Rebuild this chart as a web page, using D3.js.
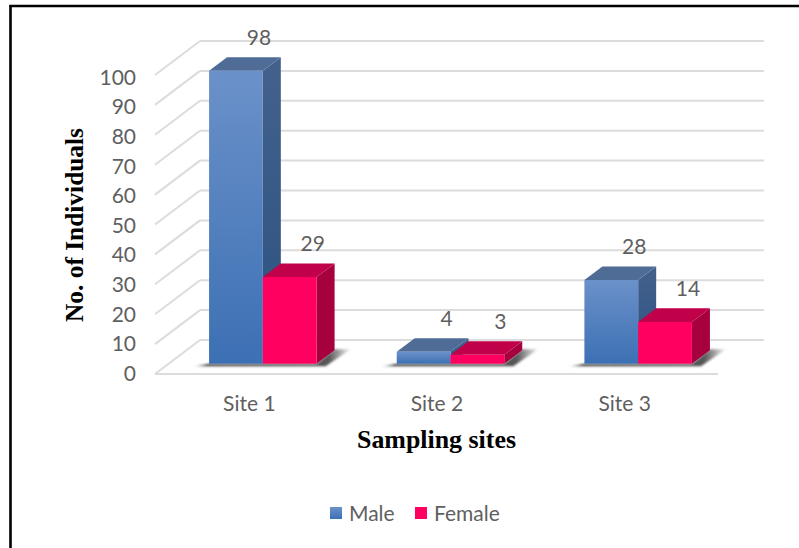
<!DOCTYPE html>
<html>
<head>
<meta charset="utf-8">
<script src="https://cdn.jsdelivr.net/npm/d3@7"></script>
<style>
  html, body { margin: 0; padding: 0; background: #fff; }
  svg { display: block; }
  .lbl { font-family: "Lato", sans-serif; font-size: 21px; fill: #5f5f5f; }
  .ttl { font-family: "Liberation Serif", serif; font-weight: bold; font-size: 25px; fill: #000; }
</style>
</head>
<body>
<svg id="chart" width="799" height="548"></svg>
<script>
const sites = ["Site 1", "Site 2", "Site 3"];
const seriesNames = ["Male", "Female"];
const maleCounts = [98, 4, 28];
const femaleCounts = [29, 3, 14];
const tickValues = [0, 10, 20, 30, 40, 50, 60, 70, 80, 90, 100];

const svg = d3.select("#chart");
const defs = svg.append("defs");

// Oblique projection: depth 0 is the front of the floor, depth 1 the back wall.
const depthX = d3.scaleLinear().domain([0, 1]).range([0, 45]);
const depthY = d3.scaleLinear().domain([0, 1]).range([0, -34]);
const yFront = d3.scaleLinear().domain([0, 100]).range([374, 75]);
const yLabels = d3.scaleLinear().domain([0, 100]).range([373.5, 77.5]);
const xSite = d3.scaleBand().domain(sites).range([155.5, 718.5]).paddingInner(0.427).paddingOuter(0.2135);
const xSeries = d3.scaleBand().domain(seriesNames).range([0, xSite.bandwidth()]);
const barDepth = [0.3, 0.7];

const px = (x, d) => x + depthX(d);
const py = (v, d) => yFront(v) + depthY(d);
const pts = list => list.map(p => p.join(",")).join(" ");

function vGrad(id, top, bottom) {
  const g = defs.append("linearGradient").attr("id", id)
    .attr("x1", 0).attr("y1", 0).attr("x2", 0).attr("y2", 1);
  g.append("stop").attr("offset", 0).attr("stop-color", top);
  g.append("stop").attr("offset", 1).attr("stop-color", bottom);
}
vGrad("maleFront", "#6b91c9", "#3c70b4");
vGrad("maleSide", "#44618c", "#2b5282");
vGrad("femaleFront", "#ff0060", "#ff0060");
vGrad("femaleSide", "#a6003f", "#a6003f");

const styles = {
  Male: { front: "url(#maleFront)", side: "url(#maleSide)", top: "#4f6c97" },
  Female: { front: "url(#femaleFront)", side: "url(#femaleSide)", top: "#c00048" }
};

defs.append("filter").attr("id", "soft").attr("x", "-10%").attr("y", "-30%").attr("width", "120%").attr("height", "160%")
  .append("feGaussianBlur").attr("stdDeviation", 1);
const sg = defs.append("linearGradient").attr("id", "floorShade");
[[0, 0.2], [0.08, 0.95], [0.86, 0.85], [1, 0.05]].forEach(([o, a]) =>
  sg.append("stop").attr("offset", o).attr("stop-color", "#3a3a3a").attr("stop-opacity", a));

// Outer frame: top and left rules only
svg.append("line").attr("x1", 9.5).attr("x2", 799).attr("y1", 6).attr("y2", 6).attr("stroke", "#000").attr("stroke-width", 2.4);
svg.append("line").attr("x1", 10.5).attr("x2", 10.5).attr("y1", 5).attr("y2", 548).attr("stroke", "#000").attr("stroke-width", 2.6);

// Back wall and side wall gridlines
const grid = svg.append("g").attr("fill", "none").attr("stroke", "#dcdcdc").attr("stroke-width", 2);
grid.selectAll(".back").data(tickValues).join("line").attr("class", "back")
  .attr("x1", px(155, 1)).attr("x2", 764)
  .attr("y1", d => py(d, 1)).attr("y2", d => py(d, 1));
grid.selectAll(".wall").data(tickValues).join("line").attr("class", "wall")
  .attr("x1", px(155, 0)).attr("x2", px(155, 1))
  .attr("y1", d => py(d, 0)).attr("y2", d => py(d, 1));
grid.append("line").attr("x1", 155).attr("x2", 718).attr("y1", yFront(0)).attr("y2", yFront(0));

// Value axis labels
const axisY = svg.append("g").attr("transform", "translate(136,0)")
  .call(d3.axisLeft(yLabels).tickValues(tickValues).tickSize(0).tickPadding(0));
axisY.select(".domain").remove();
axisY.selectAll("text").attr("class", "lbl").attr("font-family", null).attr("font-size", null).attr("fill", null);

// Site labels
const axisX = svg.append("g").attr("transform", "translate(0,394)")
  .call(d3.axisBottom(xSite).tickSize(0).tickPadding(0));
axisX.select(".domain").remove();
axisX.selectAll("text").attr("class", "lbl").attr("font-family", null).attr("font-size", null).attr("fill", null)
  .attr("dy", 17);

// Bars, one group per site
sites.forEach((site, i) => {
  const x0 = xSite(site);
  const x1 = x0 + xSite.bandwidth();
  const g = svg.append("g");

  // Cast shadow on the floor
  const baseY = py(0, barDepth[0]);
  const backY = py(0, barDepth[1]);
  g.append("polygon")
    .attr("points", pts([
      [px(x0, barDepth[0]) - 15, baseY + 2.5],
      [px(x1, barDepth[0]) + 9, baseY + 2.5],
      [px(x1, barDepth[1]) + 16, backY - 1],
      [px(x1, barDepth[1]), backY - 1],
      [px(x1, barDepth[0]), baseY],
      [px(x0, barDepth[0]), baseY]
    ]))
    .attr("fill", "url(#floorShade)").attr("filter", "url(#soft)");

  [[seriesNames[0], maleCounts[i]], [seriesNames[1], femaleCounts[i]]].forEach(([name, value]) => {
    const a = x0 + xSeries(name);
    const b = a + xSeries.bandwidth();
    const [d0, d1] = barDepth;
    const st = styles[name];
    g.append("polygon").attr("fill", st.side).attr("points", pts([
      [px(b, d0), py(value, d0)], [px(b, d1), py(value, d1)], [px(b, d1), py(0, d1)], [px(b, d0), py(0, d0)]
    ]));
    g.append("polygon").attr("fill", st.top).attr("points", pts([
      [px(a, d0), py(value, d0)], [px(a, d1), py(value, d1)], [px(b, d1), py(value, d1)], [px(b, d0), py(value, d0)]
    ]));
    g.append("polygon").attr("fill", st.front).attr("points", pts([
      [px(a, d0), py(value, d0)], [px(b, d0), py(value, d0)], [px(b, d0), py(0, d0)], [px(a, d0), py(0, d0)]
    ]));
  });
});

// Value labels sit above the back edge of each bar top, drawn last so they stay on top
sites.forEach((site, i) => {
  [[seriesNames[0], maleCounts[i]], [seriesNames[1], femaleCounts[i]]].forEach(([name, value]) => {
    const cx = xSite(site) + xSeries(name) + xSeries.bandwidth() / 2;
    svg.append("text").attr("class", "lbl").attr("text-anchor", "middle")
      .attr("x", px(cx, barDepth[1]) + 5)
      .attr("y", py(value, barDepth[1]) - 12)
      .text(value);
  });
});

// Axis titles
svg.append("text").attr("class", "ttl").attr("text-anchor", "middle")
  .attr("x", 436.5).attr("y", 448).attr("textLength", 159).attr("lengthAdjust", "spacingAndGlyphs").text("Sampling sites");
svg.append("text").attr("class", "ttl").attr("text-anchor", "middle")
  .attr("transform", "translate(83,225) rotate(-90)").attr("textLength", 194).attr("lengthAdjust", "spacingAndGlyphs")
  .text("No. of Individuals");

// Legend
const legendX = d3.scaleOrdinal().domain(seriesNames).range([330, 415]);
const legend = svg.append("g");
seriesNames.forEach(name => {
  legend.append("rect").attr("x", legendX(name)).attr("y", 507).attr("width", 12).attr("height", 12)
    .attr("fill", styles[name].front);
  legend.append("text").attr("class", "lbl").attr("x", legendX(name) + 19).attr("y", 521).text(name);
});
</script>
</body>
</html>
